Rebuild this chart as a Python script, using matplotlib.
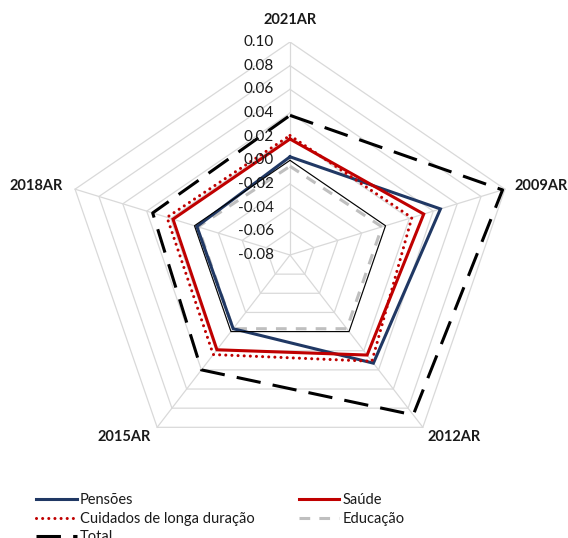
import numpy as np
import matplotlib
matplotlib.use("Agg")
import matplotlib.pyplot as plt
from matplotlib.lines import Line2D

plt.rcParams['font.family'] = ['Lato', 'DejaVu Sans']

# Axis categories, clockwise from the top
categories = ["2021AR", "2009AR", "2012AR", "2015AR", "2018AR"]

# Series values per category
pensoes = [0.003, 0.046, 0.033, -0.003, -0.002]
saude = [0.018, 0.032, 0.0245, 0.019, 0.018]
cuidados = [0.021, 0.022, 0.031, 0.024, 0.023]
educacao = [-0.005, -0.003, -0.003, -0.003, -0.003]
total = [0.038, 0.098, 0.087, 0.040, 0.035]
zero_ref = [0.0, 0.0, 0.0, 0.0, 0.0]

# Radial scale
r_min, r_max, r_step = -0.08, 0.10, 0.02
tick_values = [0.10, 0.08, 0.06, 0.04, 0.02, 0.00, -0.02, -0.04, -0.06, -0.08]

n = len(categories)
angles = np.arange(n) * 2 * np.pi / n  # clockwise from top


def to_xy(values):
    v = np.asarray(values, dtype=float)
    r = (v - r_min) / (r_max - r_min)
    x = r * np.sin(angles)
    y = r * np.cos(angles)
    return np.append(x, x[0]), np.append(y, y[0])


W, H = 568, 538
fig = plt.figure(figsize=(W / 100, H / 100), dpi=100)
ax = fig.add_axes([64 / W, 1 - 468 / H, 452 / W, 426 / H])
ax.set_xlim(-1, 1)
ax.set_ylim(-1, 1)
ax.axis('off')

grid_color = '#D9D9D9'
# Pentagon rings
levels = np.arange(r_min + r_step, r_max + r_step / 2, r_step)
for lv in levels:
    gx, gy = to_xy([lv] * n)
    ax.plot(gx, gy, color=grid_color, lw=0.9, zorder=1)
# Spokes
ox, oy = to_xy([r_max] * n)
for i in range(n):
    ax.plot([0, ox[i]], [0, oy[i]], color=grid_color, lw=0.9, zorder=1)

# Series
lw = 2.2
px, py = to_xy(pensoes)
ax.plot(px, py, color='#203864', lw=lw, zorder=3, solid_joinstyle='miter')
sx, sy = to_xy(saude)
ax.plot(sx, sy, color='#C00000', lw=lw, zorder=4, solid_joinstyle='miter')
cx, cy = to_xy(cuidados)
ax.plot(cx, cy, color='#C00000', lw=lw, zorder=4,
        linestyle=(0, (0.01, 2.0)), dash_capstyle='round')
ex, ey = to_xy(educacao)
ax.plot(ex, ey, color='#BFBFBF', lw=lw, zorder=2, linestyle=(0, (3.5, 3.0)))
tx, ty = to_xy(total)
ax.plot(tx, ty, color='black', lw=lw, zorder=5, linestyle=(0, (8, 4)))
zx, zy = to_xy(zero_ref)
ax.plot(zx, zy, color='black', lw=0.8, zorder=3)

# Radial tick labels along the top spoke
for tv in tick_values:
    r = (tv - r_min) / (r_max - r_min)
    ax.annotate(f"{tv:.2f}", xy=(0, r), xytext=(-16, 0), textcoords='offset pixels',
                ha='right', va='center', fontsize=11, color='#1a1a1a',
                zorder=6, annotation_clip=False)

# Category labels at the outer vertices
label_offsets = [(0, 22, 'center', 'center'),
                 (10, 3, 'left', 'center'),
                 (5, -3, 'left', 'top'),
                 (-6, -3, 'right', 'top'),
                 (-12, 3, 'right', 'center')]
for i, cat in enumerate(categories):
    dx, dy, ha, va = label_offsets[i]
    ax.annotate(cat, xy=(ox[i], oy[i]), xytext=(dx, dy), textcoords='offset pixels',
                ha=ha, va=va, fontsize=10.5, fontweight='bold', color='#1a1a1a',
                annotation_clip=False)

# Legend (row-major order across two columns)
h_pens = Line2D([], [], color='#203864', lw=lw)
h_saude = Line2D([], [], color='#C00000', lw=lw)
h_cuid = Line2D([], [], color='#C00000', lw=lw, linestyle=(0, (0.01, 2.0)),
                dash_capstyle='round')
h_educ = Line2D([], [], color='#BFBFBF', lw=lw, linestyle=(0, (3.5, 3.0)))
h_total = Line2D([], [], color='black', lw=lw, linestyle=(0, (8, 4)))
handles = [h_pens, h_cuid, h_total, h_saude, h_educ]
labels = ["Pensões", "Cuidados de longa duração", "Total", "Saúde", "Educação"]
leg = fig.legend(handles, labels, ncol=2, loc='upper left',
                 bbox_to_anchor=(29 / W, 1 - 486 / H), frameon=False,
                 fontsize=10.5, handlelength=2.8, handletextpad=0.2,
                 columnspacing=3.0, labelspacing=0.3, borderpad=0.0)
for t in leg.get_texts():
    t.set_color('#1a1a1a')

fig.savefig('out.png', dpi=100)
